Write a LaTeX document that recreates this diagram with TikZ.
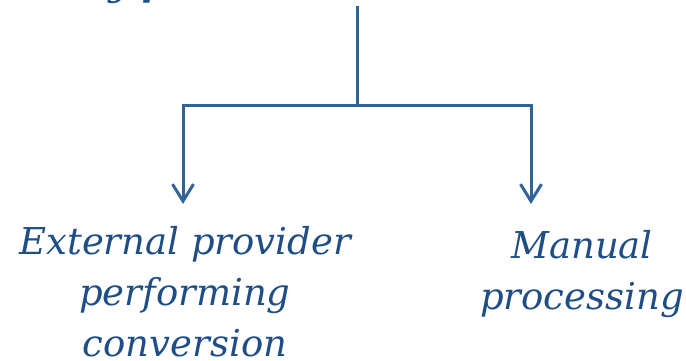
\documentclass[tikz,border=0pt]{standalone}
\usepackage{fontspec}
\setmainfont{DejaVu Serif}
\usetikzlibrary{arrows.meta}

\definecolor{linkblue}{RGB}{47,99,153}
\definecolor{textblue}{RGB}{31,78,135}

\begin{document}
\begin{tikzpicture}[x=1pt, y=1pt, line join=miter]
  % ---- Styles ----
  \tikzset{
    link/.style={draw=linkblue, line width=3pt},
    flow/.style={link, -{Straight Barb[length=17pt, width=21pt]}},
    choice/.style={font=\fontsize{37}{51}\selectfont\itshape, text=textblue,
                   align=center, inner sep=0pt, anchor=base},
    heading/.style={font=\fontsize{37}{51}\selectfont\bfseries\itshape,
                    text=textblue, inner sep=0pt, anchor=base west},
  }

  % ---- Frame ----
  \useasboundingbox (0,0) rectangle (686,-361);
  \clip (0,0) rectangle (686,-361);

  % Title line above (cut by the frame)
  \node[heading] (title) at (108,4) {y p};

  % ---- Branch points ----
  \coordinate (top)   at (357,-6);
  \coordinate (split) at (357,-106);
  \coordinate (extIn) at (183,-204);
  \coordinate (manIn) at (531,-204);

  % ---- Outcomes (anchored on the last line) ----
  \node[choice] (external) at (185,-356)
    {External provider\\performing\\conversion};
  \node[choice] (manual) at (582,-309) {Manual\\processing};

  % ---- Connectors ----
  \draw[link] (top) -- (split);
  \draw[flow] (split) -| (extIn);
  \draw[flow] (split) -| (manIn);

\end{tikzpicture}
\end{document}
